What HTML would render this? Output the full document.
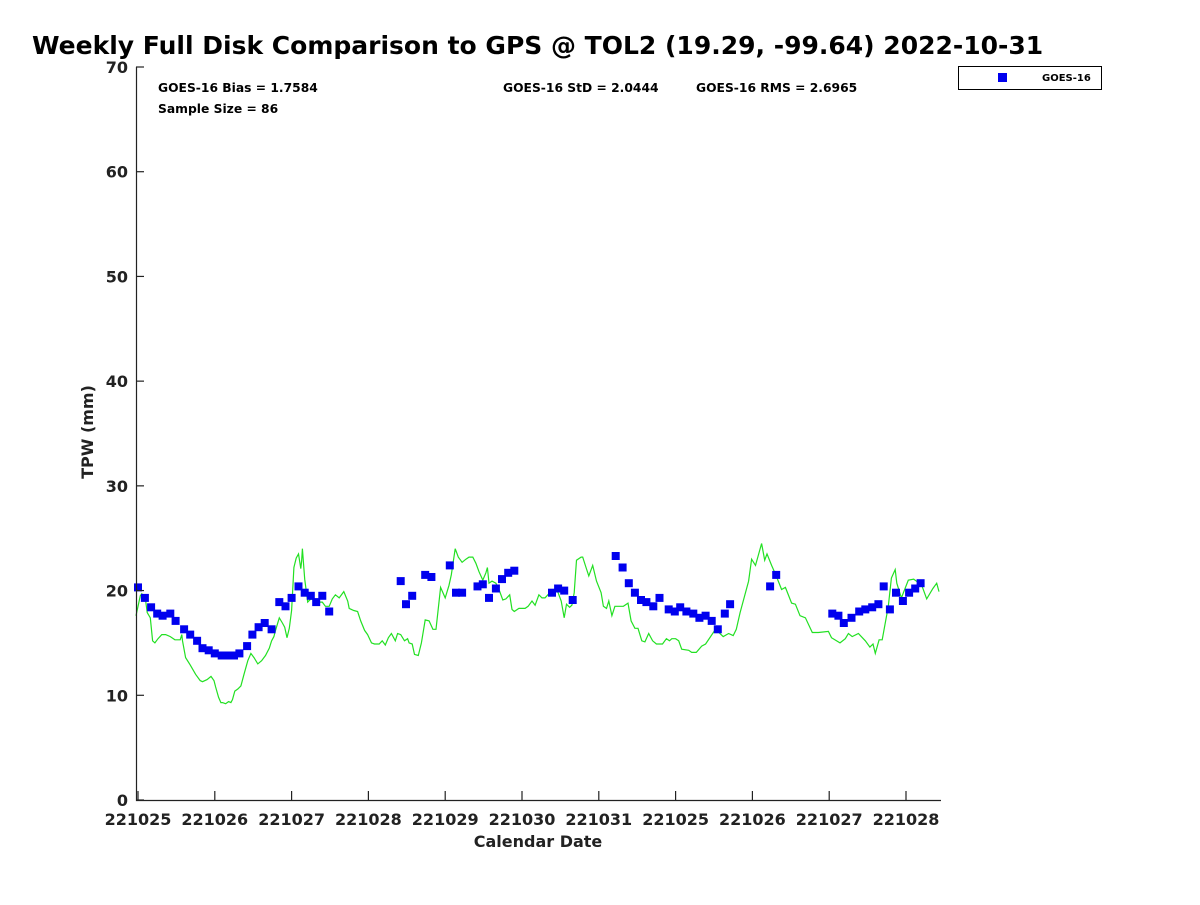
<!DOCTYPE html>
<html><head><meta charset="utf-8"><style>
body{margin:0;background:#fff;}
svg text{font-family:"DejaVu Sans","Liberation Sans",sans-serif;font-weight:bold;}
</style></head><body>
<svg id="chart" width="1200" height="900" viewBox="0 0 1200 900" xmlns="http://www.w3.org/2000/svg">
<rect width="1200" height="900" fill="#fff"/>
<text x="32" y="54" font-size="25" fill="#000">Weekly Full Disk Comparison to GPS @ TOL2 (19.29, -99.64) 2022-10-31</text>
<text x="158" y="92" font-size="12.3" fill="#000">GOES-16 Bias = 1.7584</text>
<text x="158" y="113" font-size="12.3" fill="#000">Sample Size = 86</text>
<text x="503" y="92" font-size="12.3" fill="#000">GOES-16 StD = 2.0444</text>
<text x="696" y="92" font-size="12.3" fill="#000">GOES-16 RMS = 2.6965</text>
<g id="plot"></g>
<g id="axes"></g>
<text x="538" y="847" font-size="16" fill="#222" text-anchor="middle">Calendar Date</text>
<text transform="translate(93,432) rotate(-90)" font-size="16" fill="#222" text-anchor="middle">TPW (mm)</text>
<g>
<rect x="958.5" y="66.5" width="143" height="23" fill="#fff" stroke="#000" stroke-width="1"/>
<rect x="998" y="73" width="9" height="9" fill="#0000ee"/>
<text x="1042" y="81" font-size="10" fill="#000">GOES-16</text>
</g>
</svg>
<script>
const xTickLabels=["221025","221026","221027","221028","221029","221030","221031","221025","221026","221027","221028"];
const yTicks=[0,10,20,30,40,50,60,70];
const gpsTime=[-0.03,0.03,0.05,0.10,0.12,0.16,0.19,0.22,0.26,0.31,0.36,0.42,0.48,0.55,0.57,0.58,0.62,0.68,0.75,0.81,0.84,0.90,0.95,0.99,1.01,1.05,1.08,1.10,1.14,1.18,1.21,1.23,1.26,1.30,1.34,1.38,1.43,1.47,1.51,1.56,1.61,1.66,1.71,1.74,1.77,1.79,1.84,1.88,1.91,1.94,1.97,2.00,2.03,2.06,2.09,2.12,2.13,2.14,2.17,2.21,2.25,2.30,2.36,2.40,2.44,2.49,2.53,2.57,2.62,2.68,2.73,2.75,2.81,2.86,2.90,2.95,2.99,3.04,3.08,3.14,3.18,3.22,3.26,3.30,3.35,3.38,3.42,3.47,3.51,3.53,3.57,3.60,3.65,3.69,3.74,3.79,3.84,3.88,3.94,4.00,4.05,4.08,4.13,4.17,4.22,4.27,4.31,4.36,4.40,4.44,4.49,4.53,4.55,4.57,4.61,4.66,4.70,4.75,4.79,4.84,4.87,4.90,4.96,5.04,5.08,5.13,5.17,5.22,5.26,5.30,5.35,5.39,5.44,5.47,5.51,5.55,5.58,5.62,5.65,5.68,5.71,5.77,5.79,5.83,5.87,5.92,5.97,6.03,6.06,6.10,6.13,6.17,6.21,6.26,6.32,6.38,6.42,6.47,6.51,6.56,6.60,6.65,6.70,6.75,6.83,6.88,6.92,6.95,7.00,7.04,7.08,7.17,7.21,7.27,7.34,7.39,7.52,7.62,7.69,7.75,7.79,7.84,7.95,7.99,8.04,8.12,8.16,8.19,8.25,8.31,8.38,8.43,8.51,8.56,8.62,8.69,8.78,8.86,8.99,9.03,9.14,9.21,9.25,9.30,9.38,9.47,9.53,9.57,9.60,9.65,9.69,9.77,9.81,9.86,9.88,9.94,10.03,10.10,10.17,10.19,10.27,10.35,10.40,10.43];
const gpsTpw=[17.6,19.5,19.7,19.0,17.9,17.4,15.2,15.0,15.4,15.8,15.8,15.6,15.3,15.3,15.8,15.2,13.6,12.9,12.0,11.4,11.3,11.5,11.8,11.4,10.8,9.8,9.3,9.3,9.2,9.4,9.3,9.6,10.4,10.6,10.9,12.0,13.3,14.0,13.6,13.0,13.3,13.8,14.5,15.2,15.6,16.2,17.4,16.9,16.5,15.5,16.4,18.1,22.2,23.1,23.5,22.1,22.8,24.0,21.1,18.9,19.2,19.1,18.9,18.9,18.5,18.5,19.2,19.6,19.3,19.9,19.0,18.3,18.1,18.0,17.1,16.2,15.8,15.0,14.9,14.9,15.2,14.8,15.5,15.9,15.2,15.9,15.8,15.2,15.4,15.0,14.9,13.9,13.8,15.0,17.2,17.1,16.3,16.3,20.3,19.3,20.5,21.5,24.0,23.2,22.7,23.0,23.2,23.2,22.6,21.8,21.0,21.7,22.2,20.7,20.9,20.7,20.1,19.1,19.2,19.6,18.2,18.0,18.3,18.3,18.5,19.0,18.6,19.6,19.3,19.3,19.7,20.0,20.2,19.8,19.0,17.4,18.7,18.4,18.6,19.8,22.9,23.2,23.2,22.3,21.4,22.4,20.9,19.8,18.5,18.3,19.0,17.6,18.5,18.5,18.5,18.8,17.1,16.4,16.4,15.2,15.1,15.9,15.2,14.9,14.9,15.4,15.2,15.4,15.4,15.2,14.4,14.3,14.1,14.1,14.7,14.9,16.3,15.6,15.9,15.7,16.3,17.9,20.9,23.0,22.4,24.5,22.9,23.5,22.4,21.4,20.1,20.3,18.8,18.7,17.6,17.4,16.0,16.0,16.1,15.5,15.0,15.4,15.9,15.6,15.9,15.2,14.6,14.9,14.0,15.3,15.3,18.5,21.2,22.0,20.7,19.3,21.0,21.1,20.7,20.8,19.2,20.2,20.7,19.9];
const goesTime=[0.00,0.09,0.17,0.25,0.32,0.42,0.49,0.60,0.68,0.77,0.84,0.92,1.00,1.09,1.17,1.25,1.32,1.42,1.49,1.57,1.65,1.74,1.84,1.92,2.00,2.09,2.17,2.25,2.32,2.40,2.49,3.42,3.49,3.57,3.74,3.82,4.06,4.14,4.22,4.42,4.49,4.57,4.66,4.74,4.82,4.90,5.39,5.47,5.55,5.66,6.22,6.31,6.39,6.47,6.55,6.62,6.71,6.79,6.91,6.99,7.06,7.14,7.23,7.31,7.39,7.47,7.55,7.64,7.71,8.23,8.31,9.04,9.12,9.19,9.29,9.39,9.47,9.56,9.64,9.71,9.79,9.87,9.96,10.04,10.12,10.19];
const goesTpw=[20.3,19.3,18.4,17.8,17.6,17.8,17.1,16.3,15.8,15.2,14.5,14.3,14.0,13.8,13.8,13.8,14.0,14.7,15.8,16.5,16.9,16.3,18.9,18.5,19.3,20.4,19.8,19.5,18.9,19.5,18.0,20.9,18.7,19.5,21.5,21.3,22.4,19.8,19.8,20.4,20.6,19.3,20.2,21.1,21.7,21.9,19.8,20.2,20.0,19.1,23.3,22.2,20.7,19.8,19.1,18.9,18.5,19.3,18.2,18.0,18.4,18.0,17.8,17.4,17.6,17.1,16.3,17.8,18.7,20.4,21.5,17.8,17.6,16.9,17.4,18.0,18.2,18.4,18.7,20.4,18.2,19.8,19.0,19.8,20.2,20.7];

const NS='http://www.w3.org/2000/svg';
const L=136,R=941,T=67,B=800;
const X0=138,DAY=76.8;
function xs(t){return X0+t*DAY;}
function ys(v){return B-(v/70)*(B-T);}
function mk(tag,attrs,parent){const e=document.createElementNS(NS,tag);for(const k in attrs)e.setAttribute(k,attrs[k]);parent.appendChild(e);return e;}
const plot=document.getElementById('plot'),axes=document.getElementById('axes');

let d='';
gpsTime.forEach((t,i)=>{d+=(i?'L':'M')+xs(Math.max(t,-0.026)).toFixed(1)+' '+ys(gpsTpw[i]).toFixed(1);});
const line=mk('path',{d:d,fill:'none',stroke:'#22e022','stroke-width':1.2},plot);



goesTime.forEach((t,i)=>{
  const r=mk('rect',{x:(xs(t)-4).toFixed(1),y:(ys(goesTpw[i])-4).toFixed(1),width:8,height:8,fill:'#0000ee'},plot);
  
  
});

const ax=mk('path',{d:`M${L+0.5} ${T}V${B+0.5}H${R}`,fill:'none',stroke:'#222','stroke-width':1.2},axes);



yTicks.forEach(v=>{
  const y=ys(v);
  const tk=mk('line',{x1:L,x2:L+8,y1:y,y2:y,stroke:'#222','stroke-width':1.2},axes);
  
  
  const tx=mk('text',{x:128,y:y+6,'font-size':16,fill:'#222','text-anchor':'end'},axes);
  tx.textContent=String(v);
  
  
});
xTickLabels.forEach((lab,i)=>{
  const x=xs(i);
  const tk=mk('line',{x1:x,x2:x,y1:B,y2:B-9,stroke:'#222','stroke-width':1.2},axes);
  
  
  const tx=mk('text',{x:x,y:825,'font-size':16,fill:'#222','text-anchor':'middle'},axes);
  tx.textContent=lab;
  
  
});
</script>
</body></html>
